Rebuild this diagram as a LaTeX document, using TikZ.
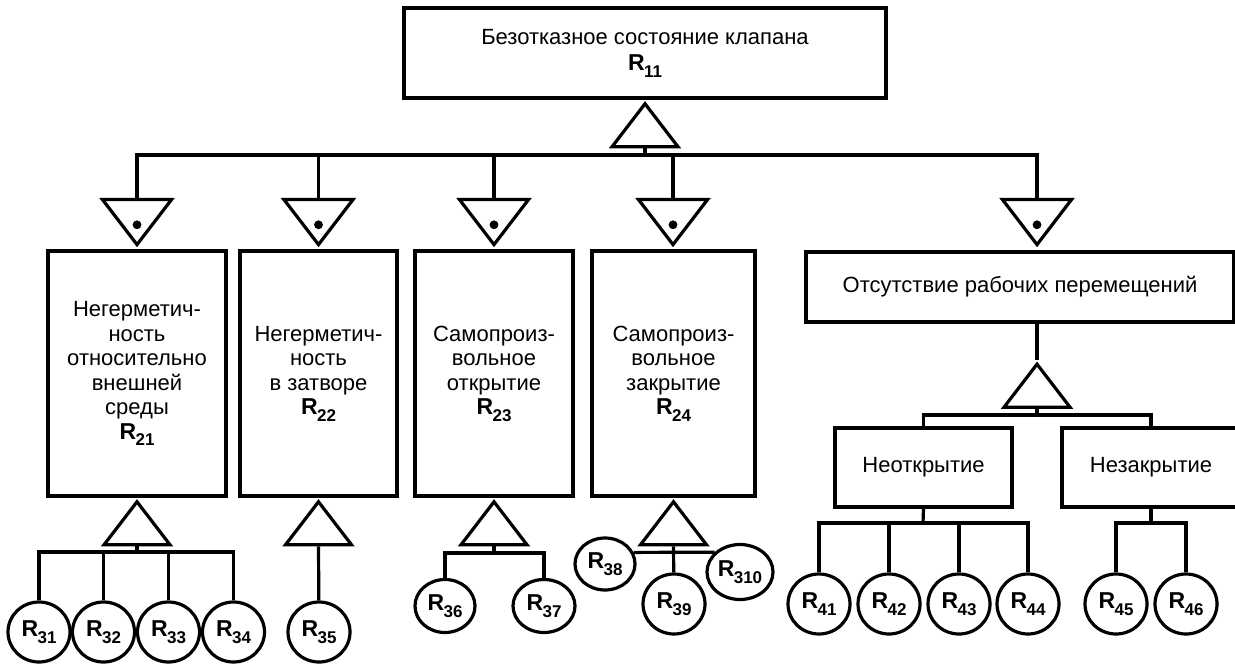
\documentclass[tikz,border=0pt]{standalone}
\usepackage{fontspec}
\setmainfont{Liberation Sans}
\usetikzlibrary{shapes.geometric}
\usetikzlibrary{positioning}
\newcommand{\Rn}[1]{{\fontsize{11.5}{11.5}\selectfont\bfseries R\kern-0.3pt\raisebox{-3.2pt}{\fontsize{8.5}{9}\selectfont #1}}}
\tikzset{
    block/.style={
           rectangle,
           draw=black, line width=1.6pt,
           inner sep=2pt,
           align=center,
           font=\fontsize{11}{12.25}\selectfont,
           },
    andgate/.style={
           isosceles triangle,
           isosceles triangle stretches,
           shape border rotate=90,
           draw=black, line width=1.6pt,
           minimum width=33pt, minimum height=21.5pt,
           inner sep=0pt,
           },
    dotgate/.style={
           andgate,
           shape border rotate=270,
           minimum width=34.5pt, minimum height=22.5pt,
           },
    event/.style={
           ellipse,
           draw=black, line width=1.6pt,
           minimum width=31pt, minimum height=30pt,
           inner sep=0pt,
           },
}
\begin{document}
\begin{tikzpicture}[x=0.5pt, y=-0.5pt, line width=1.6pt]
  \useasboundingbox (0,0) rectangle (1235,663);

  % top event
  \node[block, minimum width=241pt, minimum height=45pt] (TOP) at (645,53)
   {Безотказное состояние клапана\\[1pt]\Rn{11}};
  \node[andgate, anchor=apex] (G0) at (TOP.south) {};
  \coordinate (BUS0) at (645,155);

  % second level
  \node[block, minimum width=89pt, minimum height=122.5pt] (B1) at (137,373.5)
   {Негерметич-\\ность\\относительно\\внешней\\среды\\\Rn{21}};
  \node[block, minimum width=78.5pt, minimum height=122.5pt] (B2) at (318.5,373.5)
   {Негерметич-\\ность\\в затворе\\\Rn{22}};
  \node[block, minimum width=79pt, minimum height=122.5pt] (B3) at (494,373.5)
   {Самопроиз-\\вольное\\открытие\\\Rn{23}};
  \node[block, minimum width=81.5pt, minimum height=122.5pt] (B4) at (673.5,373.5)
   {Самопроиз-\\вольное\\закрытие\\\Rn{24}};
  \node[block, minimum width=214pt, minimum height=35pt] (B5) at (1020,287)
   {Отсутствие рабочих перемещений};

  % gates above the boxes
  \node[dotgate, anchor=lower side] (D1) at (137,198) {};
  \node[dotgate, anchor=lower side] (D2) at (318.5,198) {};
  \node[dotgate, anchor=lower side] (D3) at (494,198) {};
  \node[dotgate, anchor=lower side] (D4) at (673,198) {};
  \node[dotgate, anchor=lower side] (D5) at (1037,198) {};
  \foreach \n in {1,...,5}
    \fill ([yshift=12pt]D\n.apex) circle (2.2pt);

  % gates below the boxes
  \node[andgate, anchor=apex] (G1) at (B1.south) {};
  \node[andgate, anchor=apex] (G2) at (B2.south) {};
  \node[andgate, anchor=apex] (G3) at (B3.south) {};
  \node[andgate, anchor=apex] (G4) at (B4.south) {};
  \node[andgate, anchor=apex] (G5) at (1037,360) {};

  % third level under B5
  \node[block, minimum width=88.5pt, minimum height=39.5pt] (B6) at (923.5,467.5) {Неоткрытие};
  \node[block, minimum width=89pt, minimum height=39.5pt] (B7) at (1151,467.5) {Незакрытие};

  % basic events
  \node[event] (R31) at (39,632) {\Rn{31}};
  \node[event] (R32) at (103.5,632) {\Rn{32}};
  \node[event] (R33) at (168.5,632) {\Rn{33}};
  \node[event] (R34) at (233.5,632) {\Rn{34}};
  \node[event] (R35) at (319,632) {\Rn{35}};
  \node[event, minimum width=30pt, minimum height=26.5pt] (R36) at (445,606) {\Rn{36}};
  \node[event, minimum width=31pt, minimum height=26.5pt] (R37) at (544,606) {\Rn{37}};
  \node[event, minimum width=30pt, minimum height=26pt] (R38) at (605,564) {\Rn{38}};
  \node[event] (R39) at (674,604) {\Rn{39}};
  \node[event, minimum width=33pt, minimum height=27.5pt] (R310) at (740,572) {\Rn{310}};
  \node[event] (R41) at (819,604) {\Rn{41}};
  \node[event] (R42) at (889,604) {\Rn{42}};
  \node[event] (R43) at (959,604) {\Rn{43}};
  \node[event] (R44) at (1028,604) {\Rn{44}};
  \node[event] (R45) at (1116,604) {\Rn{45}};
  \node[event] (R46) at (1186,604) {\Rn{46}};

  \coordinate (BUS1) at (137,552);
  \coordinate (BUS3) at (494,553);
  \coordinate (BUS5) at (1037,415);
  \coordinate (BUS6) at (923,523);

  % connections
  \draw (G0.lower side) -- (BUS0);
  \draw (D1.lower side) -- (D1.lower side |- BUS0) -- (D5.lower side |- BUS0) -- (D5.lower side);
  \foreach \n in {2,3,4}
    \draw (D\n.lower side) -- (D\n.lower side |- BUS0);

  \draw (G1.lower side) -- (BUS1);
  \draw (R31) -- (R31 |- BUS1) -- (R34 |- BUS1) -- (R34);
  \foreach \n in {32,33}
    \draw (R\n) -- (R\n |- BUS1);

  \draw (G2.lower side) -- (R35);

  \draw (G3.lower side) -- (G3.lower side |- BUS3);
  \draw (R36) -- (R36 |- BUS3) -- (R37 |- BUS3) -- (R37);

  \draw (R38.22) -- (R310.142);
  \draw (G4.lower side) -- (R39);

  \draw (G5.apex) -- (G5.apex |- B5.south);
  \draw (G5.lower side) -- (BUS5);
  \draw (B6.north) -- (B6.north |- BUS5) -- (B7.north |- BUS5) -- (B7.north);

  \draw (B6.south) -- (BUS6);
  \draw (R41) -- (R41 |- BUS6) -- (R44 |- BUS6) -- (R44);
  \foreach \n in {42,43}
    \draw (R\n) -- (R\n |- BUS6);
  \draw (B7.south) -- (B7.south |- BUS6);
  \draw (R45) -- (R45 |- BUS6) -- (R46 |- BUS6) -- (R46);
\end{tikzpicture}
\end{document}
